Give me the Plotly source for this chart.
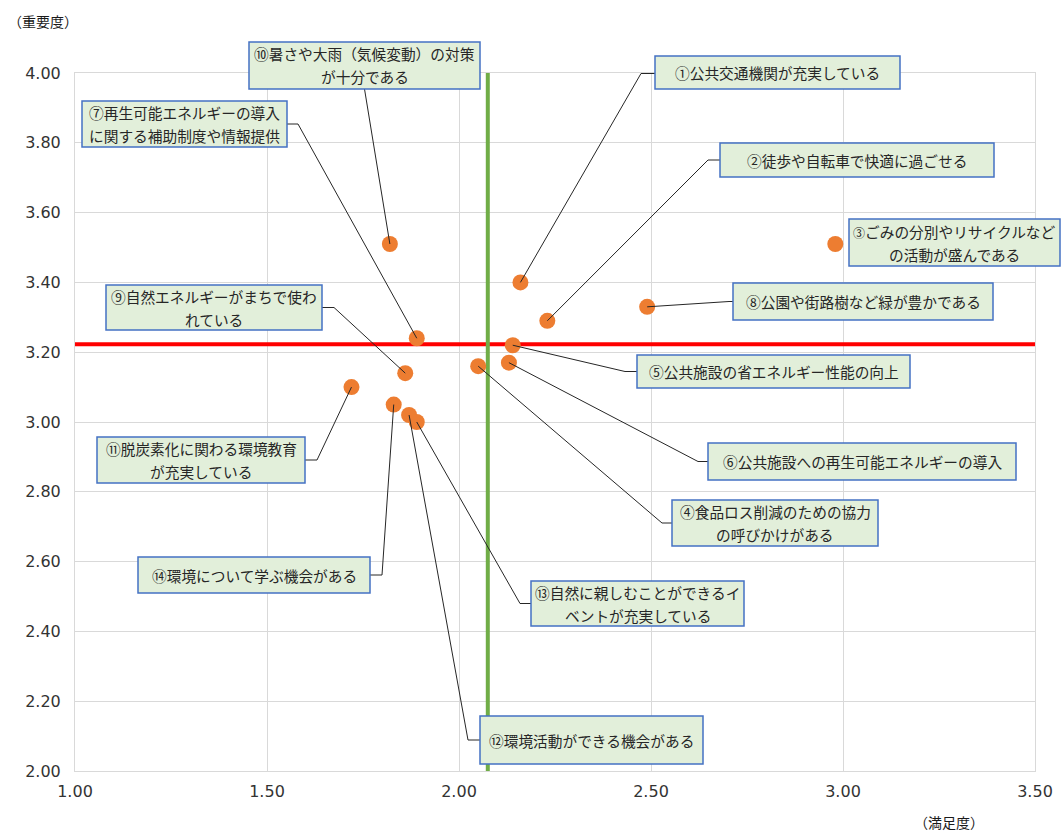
import plotly.graph_objects as go

# 項目ラベル / 満足度 (x) / 重要度 (y)
labels = [
    "①公共交通機関が充実している",
    "②徒歩や自転車で快適に過ごせる",
    "<span style='font-size:12px'>③</span>ごみの分別やリサイクルなど<br>の活動が盛んである",
    "④食品ロス削減のための協力<br>の呼びかけがある",
    "⑤公共施設の省エネルギー性能の向上",
    "⑥公共施設への再生可能エネルギーの導入",
    "⑦再生可能エネルギーの導入<br>に関する補助制度や情報提供",
    "⑧公園や街路樹など緑が豊かである",
    "⑨自然エネルギーがまちで使わ<br>れている",
    "⑩暑さや大雨（気候変動）の対策<br>が十分である",
    "⑪脱炭素化に関わる環境教育<br>が充実している",
    "⑫環境活動ができる機会がある",
    "⑬自然に親しむことができるイ<br>ベントが充実している",
    "⑭環境について学ぶ機会がある",
]
satisfaction = [2.16, 2.23, 2.98, 2.05, 2.14, 2.13, 1.89, 2.49, 1.86, 1.82, 1.72, 1.87, 1.89, 1.83]
importance = [3.40, 3.29, 3.51, 3.16, 3.22, 3.17, 3.24, 3.33, 3.14, 3.51, 3.10, 3.02, 3.00, 3.05]
avg_satisfaction = 2.075
avg_importance = 3.223

x_ticks = [1.0, 1.5, 2.0, 2.5, 3.0, 3.5]
y_ticks = [2.0, 2.2, 2.4, 2.6, 2.8, 3.0, 3.2, 3.4, 3.6, 3.8, 4.0]

# layout: callout boxes in page pixels (left, top, right, bottom), leader side, stub length
W, H = 1063, 835
ML, MR, MT, MB = 75, 28, 73, 64
XR, YR = (1.0, 3.5), (2.0, 4.0)
boxes = [
    ((655, 56, 900, 89), "l", 14),
    ((720, 143, 994, 177), "l", 12),
    ((849, 219, 1060, 266), None, 0),
    ((672, 500, 878, 546), "l", 10),
    ((637, 355, 910, 388), "l", 12),
    ((708, 443, 1016, 480), "l", 10),
    ((82, 101, 287, 147), "r", 11),
    ((733, 283, 993, 320), "l", 4),
    ((106, 285, 322, 330), "r", 12),
    ((249, 42, 480, 89), "b", 0),
    ((97, 437, 305, 483), "r", 12),
    ((480, 716, 703, 764), "l", 12),
    ((531, 581, 744, 626), "l", 11),
    ((138, 557, 370, 593), "r", 12),
]

pw, ph = W - ML - MR, H - MT - MB


def px2x(px):
    return XR[0] + (px - ML) / pw * (XR[1] - XR[0])


def py2y(py):
    return YR[1] - (py - MT) / ph * (YR[1] - YR[0])


def px2p(px):
    return (px - ML) / pw


def py2p(py):
    return 1 - (py - MT) / ph


fig = go.Figure()

fig.add_trace(go.Scatter(x=list(XR), y=[avg_importance] * 2, mode="lines",
                         line=dict(color="#ff0000", width=4), hoverinfo="skip"))
fig.add_trace(go.Scatter(x=[avg_satisfaction] * 2, y=list(YR), mode="lines",
                         line=dict(color="#70ad47", width=4), hoverinfo="skip"))
fig.add_trace(go.Scatter(
    x=satisfaction, y=importance, mode="markers",
    marker=dict(size=16, color="#ed7d31"),
    text=labels, hovertemplate="%{text}<br>満足度: %{x}<br>重要度: %{y}<extra></extra>",
))

shapes = []
annotations = []
for (box, side, stub), lab, xv, yv in zip(boxes, labels, satisfaction, importance):
    l, t, r, b = box
    cy = (t + b) / 2
    cx = (l + r) / 2
    ly = max(cy, MT + 0.5)
    if side == "l":
        path = f"M {xv},{yv} L {px2x(l - stub)},{py2y(ly)} L {px2x(l)},{py2y(ly)}"
    elif side == "r":
        path = f"M {xv},{yv} L {px2x(r + stub)},{py2y(ly)} L {px2x(r)},{py2y(ly)}"
    elif side == "b":
        path = f"M {xv},{yv} L {px2x(cx)},{py2y(b)}"
    else:
        path = None
    if path:
        shapes.append(dict(type="path", path=path, xref="x", yref="y", layer="above",
                           line=dict(color="#262626", width=1)))
    shapes.append(dict(type="rect", xref="paper", yref="paper", layer="above",
                       x0=px2p(l), x1=px2p(r), y0=py2p(b), y1=py2p(t),
                       fillcolor="#e2efda", line=dict(color="#4472c4", width=1.5)))
    lines = lab.split("<br>")
    n = len(lines)
    for i, s in enumerate(lines):
        ty = cy + (i - (n - 1) / 2) * 23
        annotations.append(dict(x=px2p(cx), y=py2p(ty), xref="paper", yref="paper", text=s,
                                showarrow=False, xanchor="center", yanchor="middle",
                                font=dict(family="Noto Sans CJK JP", size=14.7, color="#262626")))

annotations.append(dict(x=px2p(6), y=py2p(21), xref="paper", yref="paper", text="（重要度）",
                        showarrow=False, xanchor="left", yanchor="middle",
                        font=dict(family="Noto Sans CJK JP", size=14, color="#1a1a1a")))
annotations.append(dict(x=px2p(912), y=py2p(822), xref="paper", yref="paper",
                        text="（満足度）", showarrow=False, xanchor="left", yanchor="middle",
                        font=dict(family="Noto Sans CJK JP", size=14, color="#1a1a1a")))

axis_common = dict(showgrid=True, gridcolor="#d9d9d9", gridwidth=1, zeroline=False,
                   showline=True, linecolor="#d9d9d9", linewidth=1, mirror=True,
                   tickformat=".2f", ticks="", automargin=False,
                   tickfont=dict(family="DejaVu Sans", size=16, color="#333333"))

fig.update_layout(
    width=W, height=H,
    margin=dict(l=ML, r=MR, t=MT, b=MB),
    paper_bgcolor="white", plot_bgcolor="white",
    showlegend=False,
    xaxis=dict(range=list(XR), tickvals=x_ticks, ticklabelstandoff=6, **axis_common),
    yaxis=dict(range=list(YR), tickvals=y_ticks, ticklabelstandoff=10, **axis_common),
    shapes=shapes,
    annotations=annotations,
)

fig.write_html("out.html", config={"displayModeBar": False},
               post_script="document.body.style.margin='0';")
